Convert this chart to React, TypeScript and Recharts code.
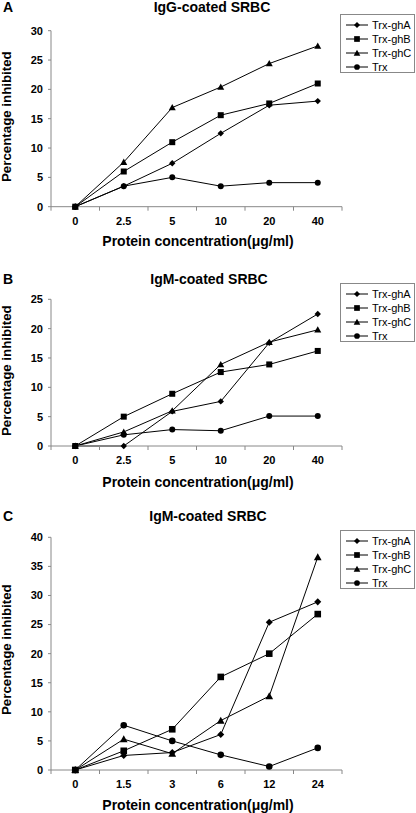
import React from 'react';
import { LineChart, Line, XAxis, YAxis, Legend } from 'recharts';

// x categories
const concAB = ['0', '2.5', '5', '10', '20', '40'];
const concC = ['0', '1.5', '3', '6', '12', '24'];

// panel A - IgG-coated SRBC
const aGhA = [0, 3.5, 7.4, 12.5, 17.3, 18.0];
const aGhB = [0, 6.0, 11.0, 15.6, 17.6, 21.0];
const aGhC = [0, 7.6, 16.9, 20.4, 24.4, 27.4];
const aTrx = [0, 3.5, 5.0, 3.5, 4.1, 4.1];

// panel B - IgM-coated SRBC
const bGhA = [0, 0, 5.9, 7.6, 17.6, 22.5];
const bGhB = [0, 5.0, 8.9, 12.6, 13.9, 16.2];
const bGhC = [0, 2.4, 6.0, 13.9, 17.7, 19.8];
const bTrx = [0, 1.9, 2.8, 2.6, 5.1, 5.1];

// panel C - IgM-coated SRBC
const cGhA = [0, 2.5, 3.0, 6.1, 25.4, 28.9];
const cGhB = [0, 3.3, 7.0, 16.0, 20.0, 26.8];
const cGhC = [0, 5.3, 2.8, 8.5, 12.7, 36.6];
const cTrx = [0, 7.7, 5.0, 2.6, 0.6, 3.8];

const seriesNames = ['Trx-ghA', 'Trx-ghB', 'Trx-ghC', 'Trx'];
const shapes = ['diamond', 'square', 'triangle', 'circle'];

const yTicksA = [0, 5, 10, 15, 20, 25, 30];
const yTicksB = [0, 5, 10, 15, 20, 25];
const yTicksC = [0, 5, 10, 15, 20, 25, 30, 35, 40];

const FONT = '"Liberation Sans", Arial, sans-serif';
const AXIS = '#888888';

function buildRows(labels: string[], a: number[], b: number[], c: number[], t: number[]) {
  return labels.map((label, i) => ({ i, label, ghA: a[i], ghB: b[i], ghC: c[i], trx: t[i] }));
}

function drawShape(shape: string, cx: number, cy: number, k: number, key?: any) {
  if (shape === 'diamond') {
    const s = 3.2 * k;
    return <polygon key={key} points={`${cx},${cy - s} ${cx + s},${cy} ${cx},${cy + s} ${cx - s},${cy}`} fill="#000" />;
  }
  if (shape === 'square') {
    const s = 3 * k;
    return <rect key={key} x={cx - s} y={cy - s} width={2 * s} height={2 * s} fill="#000" />;
  }
  if (shape === 'triangle') {
    const s = 3.5 * k;
    return <polygon key={key} points={`${cx},${cy - s} ${cx + s},${cy + s * 0.8} ${cx - s},${cy + s * 0.8}`} fill="#000" />;
  }
  return <circle key={key} cx={cx} cy={cy} r={3 * k} fill="#000" />;
}

const makeDot = (shape: string, k: number) => (props: any) => {
  const { cx, cy, index } = props;
  if (cx == null || cy == null) return <g key={`n${index}`} />;
  return drawShape(shape, cx, cy, k, `d${index}`);
};

// labels sit on whole positions, tick marks on the band edges
const makeXTick = (labels: string[]) => (props: any) => {
  const { x, y, payload } = props;
  const v = payload.value;
  if (Number.isInteger(v)) {
    return (
      <text x={x} y={y + 18} textAnchor="middle" fontSize={11} fontWeight="bold" fontFamily={FONT} fill="#000">
        {labels[v]}
      </text>
    );
  }
  return <line x1={x} y1={y} x2={x} y2={y + 4} stroke={AXIS} />;
};

function LegendBox() {
  return (
    <div style={{ width: 75, height: 59, border: `1px solid ${AXIS}`, background: '#fff', boxSizing: 'border-box', paddingTop: 3 }}>
      {seriesNames.map((name, i) => (
        <div key={name} style={{ height: 14, display: 'flex', alignItems: 'center' }}>
          <svg width={27} height={14} style={{ marginLeft: 4 }}>
            <line x1={1} y1={7} x2={23} y2={7} stroke="#000" strokeWidth={1} />
            {drawShape(shapes[i], 12, 7, 0.95)}
          </svg>
          <span style={{ fontFamily: FONT, fontSize: 11, color: '#000', lineHeight: '14px' }}>{name}</span>
        </div>
      ))}
    </div>
  );
}

const bandTicks = [-0.5, 0, 0.5, 1, 1.5, 2, 2.5, 3, 3.5, 4, 4.5, 5, 5.5];

interface PanelProps {
  top: number;
  height: number;
  plotTop: number;
  plotBottom: number;
  labels: string[];
  rows: any[];
  yTicks: number[];
  legendTop: number;
  k: number;
}

function Panel({ top, height, plotTop, plotBottom, labels, rows, yTicks, legendTop, k }: PanelProps) {
  const keys = ['ghA', 'ghB', 'ghC', 'trx'];
  return (
    <div style={{ position: 'absolute', left: 0, top }}>
      <LineChart
        width={416}
        height={height}
        data={rows}
        margin={{ top: plotTop - top, right: 74, left: 11, bottom: height - (plotBottom - top) - 20 }}
      >
        <XAxis
          dataKey="i"
          type="number"
          domain={[-0.5, 5.5]}
          ticks={bandTicks}
          interval={0}
          height={20}
          tickSize={0}
          tickMargin={0}
          tickLine={false}
          axisLine={{ stroke: AXIS }}
          tick={makeXTick(labels)}
        />
        <YAxis
          type="number"
          width={40}
          domain={[0, yTicks[yTicks.length - 1]]}
          ticks={yTicks}
          interval={0}
          tickSize={3}
          tickMargin={5}
          axisLine={{ stroke: AXIS }}
          tickLine={{ stroke: AXIS }}
          tick={{ fontSize: 11, fontWeight: 'bold', fill: '#000', fontFamily: FONT }}
        />
        <Legend
          layout="vertical"
          align="center"
          verticalAlign="middle"
          wrapperStyle={{ left: 340, top: legendTop - top, width: 75 }}
          content={() => <LegendBox />}
        />
        {keys.map((key, i) => (
          <Line
            key={key}
            type="linear"
            dataKey={key}
            name={seriesNames[i]}
            stroke="#000"
            strokeWidth={1}
            dot={makeDot(shapes[i], k)}
            activeDot={false}
            isAnimationActive={false}
          />
        ))}
      </LineChart>
    </div>
  );
}

const boldText = (size: number): React.CSSProperties => ({
  position: 'absolute',
  fontFamily: FONT,
  fontWeight: 'bold',
  fontSize: size,
  lineHeight: `${size}px`,
  color: '#000',
  whiteSpace: 'nowrap',
});

function YLabel({ cy }: { cy: number }) {
  return (
    <div style={{ ...boldText(13.3), left: 7 - 100, top: cy - 6.5, width: 200, textAlign: 'center', transform: 'rotate(-90deg)' }}>
      Percentage inhibited
    </div>
  );
}

function XLabel({ top }: { top: number }) {
  return (
    <div style={{ ...boldText(14), left: 98, top, width: 200, textAlign: 'center' }}>
      Protein concentration(μg/ml)
    </div>
  );
}

function Title({ top, left, text }: { top: number; left: number; text: string }) {
  return <div style={{ ...boldText(14), left, top, width: 200, textAlign: 'center' }}>{text}</div>;
}

export default function App() {
  const rowsA = buildRows(concAB, aGhA, aGhB, aGhC, aTrx);
  const rowsB = buildRows(concAB, bGhA, bGhB, bGhC, bTrx);
  const rowsC = buildRows(concC, cGhA, cGhB, cGhC, cTrx);

  return (
    <div style={{ position: 'absolute', left: 0, top: 0, width: 416, height: 813, background: '#fff', overflow: 'hidden' }}>
      <Panel top={0} height={230} plotTop={30.7} plotBottom={206.7} labels={concAB} rows={rowsA} yTicks={yTicksA} legendTop={14} k={1} />
      <Panel top={260} height={210} plotTop={299.3} plotBottom={446} labels={concAB} rows={rowsB} yTicks={yTicksB} legendTop={283} k={1} />
      <Panel top={500} height={290} plotTop={537.3} plotBottom={770} labels={concC} rows={rowsC} yTicks={yTicksC} legendTop={530} k={1.1} />

      <div style={{ ...boldText(14), left: 3, top: 0 }}>A</div>
      <div style={{ ...boldText(14), left: 3, top: 272 }}>B</div>
      <div style={{ ...boldText(14), left: 3, top: 509 }}>C</div>

      <Title top={0} left={112} text="IgG-coated SRBC" />
      <Title top={272} left={109} text="IgM-coated SRBC" />
      <Title top={509} left={108} text="IgM-coated SRBC" />

      <YLabel cy={116} />
      <YLabel cy={370} />
      <YLabel cy={649} />

      <XLabel top={234} />
      <XLabel top={475} />
      <XLabel top={798} />
    </div>
  );
}
